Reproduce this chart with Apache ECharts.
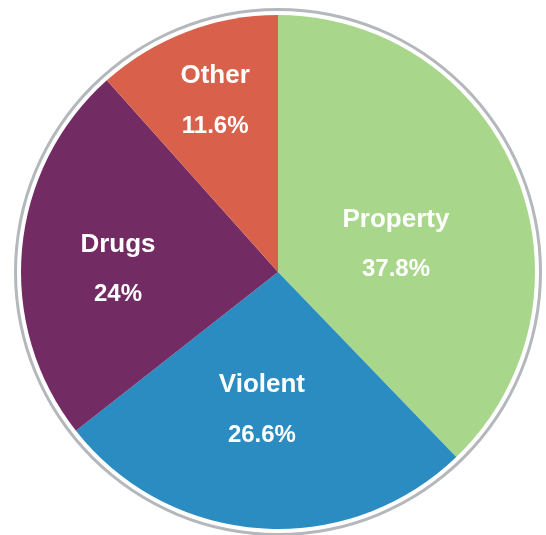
<!DOCTYPE html>
<html>
<head>
<meta charset="utf-8">
<script src="https://cdn.jsdelivr.net/npm/echarts@6/dist/echarts.min.js"></script>
<style>
html,body{margin:0;padding:0;background:#fff;}
#chart{width:546px;height:535px;}
</style>
</head>
<body>
<div id="chart"></div>
<script>
const categories = ["Property", "Violent", "Drugs", "Other"];
const values = [37.8, 26.6, 24, 11.6];
const colors = ["#a8d78c", "#2a8cc0", "#722b63", "#d9604a"];
const labelOffsets = [[-4, 22], [-7, 7], [-29, 9], [-16, -48]];

const chart = echarts.init(document.getElementById('chart'));
chart.setOption({
  animation: false,
  series: [
    {
      type: 'pie',
      silent: true,
      center: [278, 272],
      radius: [261, 264],
      label: { show: false },
      labelLine: { show: false },
      itemStyle: { color: '#b4b8bc' },
      data: [{ value: 1, name: 'ring' }]
    },
    {
      type: 'pie',
      center: [278, 272],
      radius: [0, 257],
      startAngle: 90,
      clockwise: true,
      avoidLabelOverlap: false,
      itemStyle: { borderWidth: 0 },
      label: {
        show: true,
        position: 'inside',
        formatter: p => '{n|' + p.name + '}\n{v|' + p.value + '%}',
        rich: {
          n: { color: '#fff', fontFamily: 'Liberation Sans, Arial, sans-serif', fontWeight: 'bold', fontSize: 26, lineHeight: 50, align: 'center' },
          v: { color: '#fff', fontFamily: 'Liberation Sans, Arial, sans-serif', fontWeight: 'bold', fontSize: 24, lineHeight: 50, align: 'center' }
        }
      },
      labelLine: { show: false },
      data: categories.map((c, i) => ({
        name: c,
        value: values[i],
        itemStyle: { color: colors[i] },
        label: { offset: labelOffsets[i] }
      }))
    }
  ]
});
</script>
</body>
</html>
